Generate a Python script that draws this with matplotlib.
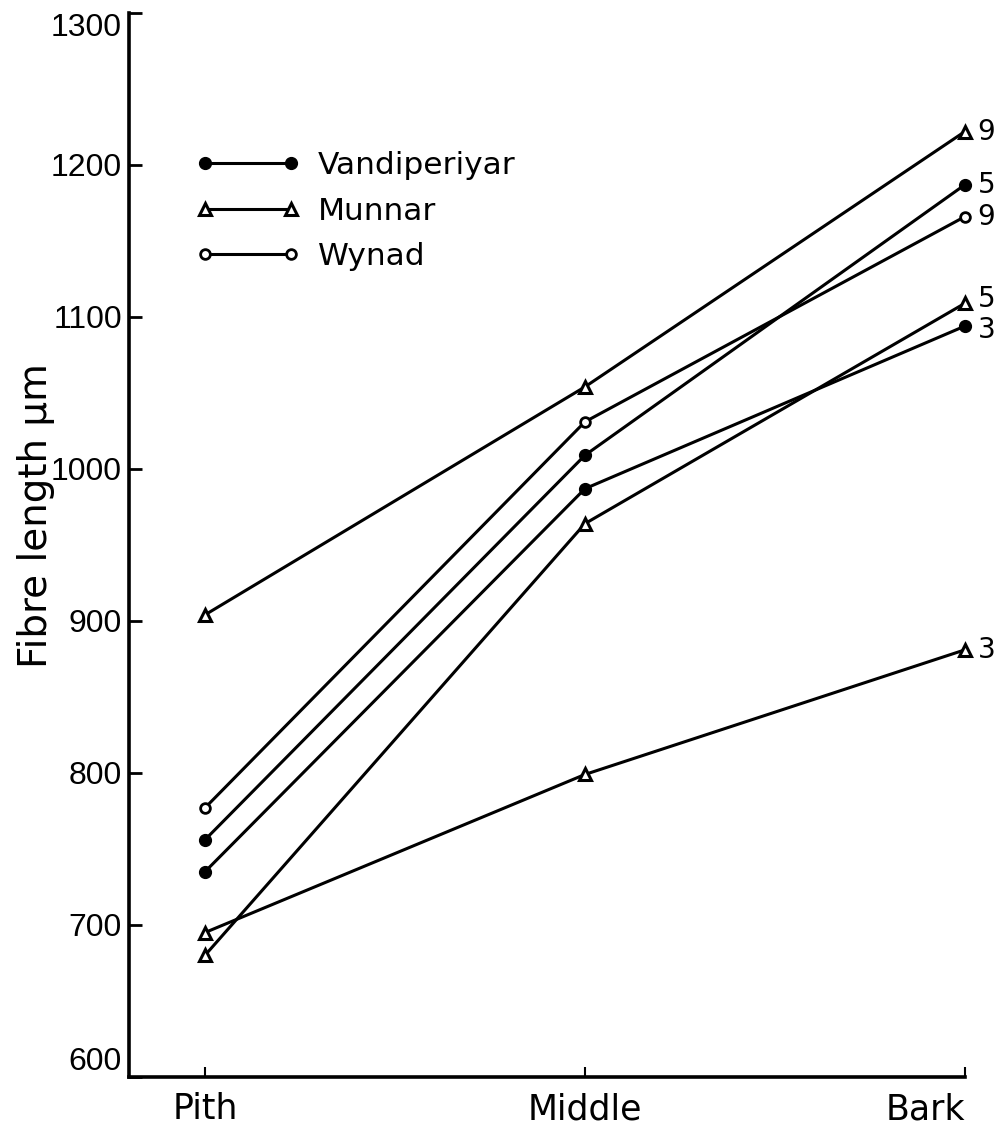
import matplotlib
matplotlib.use('Agg')
import numpy as np
import matplotlib.pyplot as plt
from matplotlib.lines import Line2D

# ---- data -------------------------------------------------------------
positions = ['Pith', 'Middle', 'Bark']
yticks = [600, 700, 800, 900, 1000, 1100, 1200, 1300]

vandiperiyar_5 = [756, 1009, 1187]
vandiperiyar_3 = [735, 987, 1094]
munnar_9 = [904, 1054, 1222]
munnar_5 = [680, 964, 1109]
munnar_3 = [695, 799, 881]
wynad_9 = [777, 1031, 1166]

sites = ['Vandiperiyar', 'Munnar', 'Wynad']
series = [
    ('Munnar', '9', munnar_9),
    ('Vandiperiyar', '5', vandiperiyar_5),
    ('Wynad', '9', wynad_9),
    ('Munnar', '5', munnar_5),
    ('Vandiperiyar', '3', vandiperiyar_3),
    ('Munnar', '3', munnar_3),
]

# ---- styles -----------------------------------------------------------
styles = {
    'Vandiperiyar': dict(marker='o', markersize=8.5, markerfacecolor='black',
                         markeredgecolor='black', markeredgewidth=1.0),
    'Munnar': dict(marker='^', markersize=9, markerfacecolor='white',
                   markeredgecolor='black', markeredgewidth=2.2),
    'Wynad': dict(marker='o', markersize=7, markerfacecolor='white',
                  markeredgecolor='black', markeredgewidth=2.0),
}
# small vertical nudges (points) for end labels that sit close together
label_nudge = [0, 0, 0, 3, -3, 0]
LW = 2.2
tick_family = ['Liberation Sans Narrow', 'Liberation Sans', 'DejaVu Sans']

fig = plt.figure(figsize=(10.02, 11.25), dpi=100)
ax = fig.add_axes([0.1287, 0.0427, 0.8343, 0.9458])

x = np.arange(len(positions))
for (site, age, vals), dy in zip(series, label_nudge):
    ax.plot(x, vals, color='black', linewidth=LW, clip_on=False, zorder=3,
            **styles[site])
    ax.annotate(age, xy=(x[-1], vals[-1]), xytext=(9, dy),
                textcoords='offset points', ha='left', va='center',
                fontsize=20, family='DejaVu Sans', annotation_clip=False)

ax.set_xlim(-0.2, 2.0)
ax.set_ylim(600, 1300)

for s in ['top', 'right']:
    ax.spines[s].set_visible(False)
for s in ['left', 'bottom']:
    ax.spines[s].set_linewidth(2.6)

ax.set_yticks(yticks)
ax.set_yticklabels([str(v) for v in yticks])
ax.set_xticks(x)
ax.set_xticklabels(positions)
ax.tick_params(axis='y', direction='in', length=9, width=2, pad=5)
ax.tick_params(axis='x', direction='in', length=7, width=1.5, pad=11)

for lab in ax.get_yticklabels():
    lab.set_fontfamily(tick_family)
    lab.set_fontsize(23)
ylabs = ax.get_yticklabels()
ylabs[0].set_va('bottom')
ylabs[-1].set_va('top')

for lab in ax.get_xticklabels():
    lab.set_fontfamily('DejaVu Sans')
    lab.set_fontsize(25)
ax.get_xticklabels()[-1].set_ha('right')

fig.text(36 / 1002, 1 - 516 / 1125, 'Fibre length \u00b5m', rotation=90,
         ha='center', va='center', fontsize=28, family='DejaVu Sans')

handles = [Line2D([], [], color='black', linewidth=LW, label=s, **styles[s])
           for s in sites]
ax.legend(handles=handles, loc='upper left', bbox_to_anchor=(0.080, 0.870),
          frameon=False, numpoints=2, handlelength=3.35, handletextpad=0.55,
          labelspacing=0.53, borderpad=0, borderaxespad=0,
          prop=dict(family='DejaVu Sans', size=22.5))

fig.savefig('out.png', dpi=100)
